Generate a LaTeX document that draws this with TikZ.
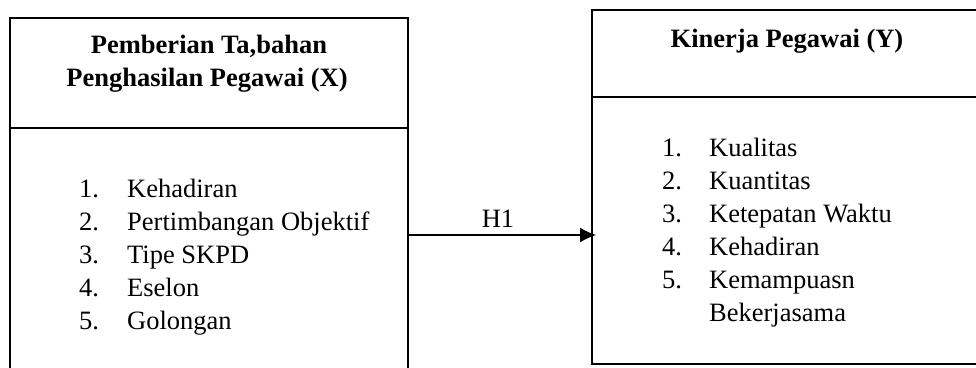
\documentclass[tikz,border=0pt]{standalone}
\usepackage{fontspec}
\setmainfont{Liberation Serif}
\usetikzlibrary{arrows.meta}
\begin{document}
\begin{tikzpicture}[x=1pt,y=-1pt,
  txt/.style={inner sep=0pt,font=\fontsize{26.5}{33}\selectfont},
  ttl/.style={txt,anchor=base,font=\fontsize{26.5}{33}\selectfont\bfseries},
  itm/.style={txt,anchor=base west},
  frame/.style={draw,line width=2pt,rectangle,inner sep=0pt},
  divline/.style={line width=1.8pt},
  conn/.style={line width=1.2pt,shorten >=-5pt,-{Latex[length=16pt,width=15pt]}}]
\useasboundingbox (0,0) rectangle (976,367);
\clip (0,0) rectangle (976,367);
% boxes
\node[frame,minimum width=398pt,minimum height=382pt] (lbox) at (209,209) {};
\node[frame,minimum width=408pt,minimum height=354pt] (rbox) at (796,187) {};
\coordinate (ldiv) at (0,128);
\coordinate (rdiv) at (0,97);
\draw[divline] (lbox.west |- ldiv) -- (lbox.east |- ldiv);
\draw[divline] (rbox.west |- rdiv) -- (rbox.east |- rdiv);
% titles
\node[ttl] (lt1) at (209,53) {Pemberian Ta,bahan};
\node[ttl] (lt2) at (207,86) {Penghasilan Pegawai (X)};
\node[ttl] (rt1) at (787,47) {Kinerja Pegawai (Y)};
% left list
\foreach \n/\t [count=\i] in {1./Kehadiran,2./Pertimbangan Objektif,3./Tipe SKPD,4./Eselon,5./Golongan}{
  \node[itm] (ln\i) at (79,{197+33*(\i-1)}) {\n};
  \node[itm] (lx\i) at (127,{197+33*(\i-1)}) {\t};
}
% right list
\foreach \n/\t [count=\i] in {1./Kualitas,2./Kuantitas,3./Ketepatan Waktu,4./Kehadiran,5./Kemampuasn}{
  \node[itm] (rn\i) at (662,{156+33*(\i-1)}) {\n};
  \node[itm] (rx\i) at (709,{156+33*(\i-1)}) {\t};
}
\node[itm] (rx6) at (709,321) {Bekerjasama};
% connector
\coordinate (ay) at (0,235);
\draw[conn] (lbox.east |- ay) -- (rbox.west |- ay);
\node[txt,anchor=base] (h1) at (498,227) {H1};
\end{tikzpicture}
\end{document}
